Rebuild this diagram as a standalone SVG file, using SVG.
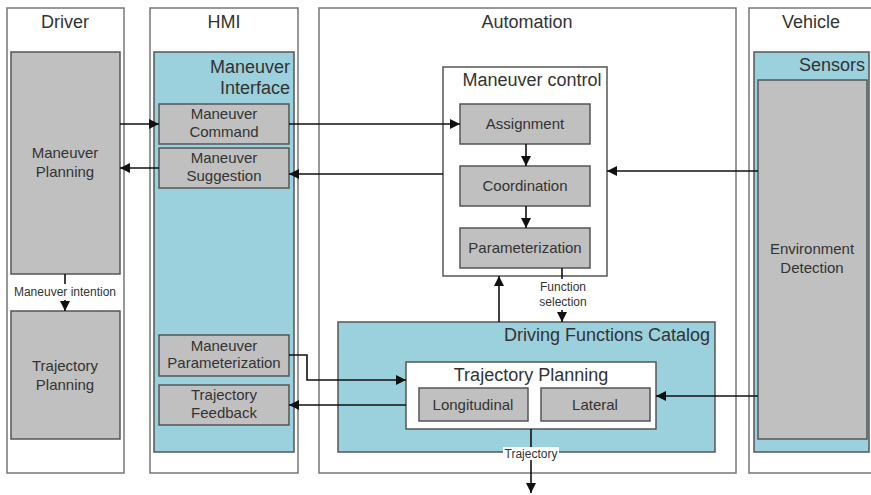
<svg xmlns="http://www.w3.org/2000/svg" width="871" height="495" viewBox="0 0 871 495">
<defs>
<marker id="ah" viewBox="0 0 10 10" refX="10" refY="5" markerWidth="10" markerHeight="10" markerUnits="userSpaceOnUse" orient="auto">
<path d="M0,0 L10,5 L0,10 z" fill="#111"/>
</marker>
<style>
.lane{fill:#fff;stroke:#777;stroke-width:1.5}
.blue{fill:#9bd0dd;stroke:#555;stroke-width:1.5}
.gray{fill:#c0c0c0;stroke:#555;stroke-width:1.5}
.white{fill:#fff;stroke:#555;stroke-width:1.5}
text{font-family:"Liberation Sans",Arial,sans-serif;fill:#333}
.h{font-size:18px;text-anchor:middle}
.t{font-size:18px;text-anchor:end}
.b{font-size:15px;text-anchor:middle}
.s{font-size:12px;text-anchor:middle}
.c{fill:none;stroke:#111;stroke-width:1.6}
</style>
</defs>
<rect x="0" y="0" width="871" height="495" fill="#fff"/>
<g id="lane-driver"><rect class="lane" x="7" y="8" width="117" height="465"/><text class="h" x="65" y="28">Driver</text></g>
<g id="lane-hmi"><rect class="lane" x="150" y="8" width="148" height="465"/><text class="h" x="224" y="28">HMI</text></g>
<g id="lane-automation"><rect class="lane" x="319" y="8" width="417" height="465"/><text class="h" x="527" y="28">Automation</text></g>
<g id="lane-vehicle"><rect class="lane" x="749" y="8" width="125" height="465"/><text class="h" x="811" y="28">Vehicle</text></g>

<g id="maneuver-planning"><rect class="gray" x="11" y="52" width="109" height="222"/><text class="b" x="65" y="158">Maneuver</text><text class="b" x="65" y="177">Planning</text></g>
<g id="trajectory-planning-driver"><rect class="gray" x="11" y="311" width="109" height="128"/><text class="b" x="65" y="371">Trajectory</text><text class="b" x="65" y="390">Planning</text></g>

<g id="maneuver-interface"><rect class="blue" x="154" y="52" width="140" height="400"/><text class="t" x="290" y="73">Maneuver</text><text class="t" x="290" y="94">Interface</text></g>
<g id="maneuver-command"><rect class="gray" x="159" y="104" width="130" height="40"/><text class="b" x="224" y="119">Maneuver</text><text class="b" x="224" y="137">Command</text></g>
<g id="maneuver-suggestion"><rect class="gray" x="159" y="148" width="130" height="40"/><text class="b" x="224" y="163">Maneuver</text><text class="b" x="224" y="181">Suggestion</text></g>
<g id="maneuver-parameterization"><rect class="gray" x="159" y="335" width="130" height="41"/><text class="b" x="224" y="351">Maneuver</text><text class="b" x="224" y="368">Parameterization</text></g>
<g id="trajectory-feedback"><rect class="gray" x="159" y="385" width="130" height="40"/><text class="b" x="224" y="400">Trajectory</text><text class="b" x="224" y="418">Feedback</text></g>

<g id="maneuver-control"><rect class="white" x="443" y="67" width="164" height="209"/><text class="h" x="532" y="86">Maneuver control</text></g>
<g id="assignment"><rect class="gray" x="460" y="104" width="130" height="40"/><text class="b" x="525" y="129">Assignment</text></g>
<g id="coordination"><rect class="gray" x="460" y="166" width="130" height="40"/><text class="b" x="525" y="191">Coordination</text></g>
<g id="parameterization"><rect class="gray" x="460" y="228" width="130" height="40"/><text class="b" x="525" y="253">Parameterization</text></g>

<g id="driving-functions-catalog"><rect class="blue" x="338" y="322" width="377" height="130"/><text class="t" x="710" y="341">Driving Functions Catalog</text></g>
<g id="trajectory-planning"><rect class="white" x="406" y="362" width="250" height="67"/><text class="h" x="531" y="381">Trajectory Planning</text></g>
<g id="longitudinal"><rect class="gray" x="419" y="388" width="109" height="33"/><text class="b" x="473" y="410">Longitudinal</text></g>
<g id="lateral"><rect class="gray" x="541" y="388" width="109" height="33"/><text class="b" x="595" y="410">Lateral</text></g>

<g id="sensors"><rect class="blue" x="754" y="52" width="115" height="400"/><text class="t" x="865" y="71">Sensors</text></g>
<g id="environment-detection"><rect class="gray" x="758" y="80" width="109" height="359"/><text class="b" x="812" y="254">Environment</text><text class="b" x="812" y="273">Detection</text></g>

<g id="connectors">
<path class="c" d="M120,124 H159" marker-end="url(#ah)"/>
<path class="c" d="M159,168 H120" marker-end="url(#ah)"/>
<path class="c" d="M289,124 H460" marker-end="url(#ah)"/>
<path class="c" d="M443,174 H289" marker-end="url(#ah)"/>
<path class="c" d="M526,144 V166" marker-end="url(#ah)"/>
<path class="c" d="M526,206 V228" marker-end="url(#ah)"/>
<path class="c" d="M758,171 H607" marker-end="url(#ah)"/>
<path class="c" d="M758,396 H656" marker-end="url(#ah)"/>
<path class="c" d="M289,355 H307 V380 H406" marker-end="url(#ah)"/>
<path class="c" d="M406,405 H289" marker-end="url(#ah)"/>
<path class="c" d="M499,322 V276" marker-end="url(#ah)"/>
<path class="c" d="M562,268 V279"/>
<text class="s" x="563" y="291">Function</text>
<text class="s" x="563" y="306">selection</text>
<path class="c" d="M562,310 V322" marker-end="url(#ah)"/>
<path class="c" d="M65,274 V284"/>
<text class="s" x="65" y="296">Maneuver intention</text>
<path class="c" d="M65,300 V311" marker-end="url(#ah)"/>
<path class="c" d="M531,429 V493" marker-end="url(#ah)"/>
<rect x="503" y="447" width="56" height="13" fill="#fff"/>
<text class="s" x="531" y="458">Trajectory</text>
</g>
</svg>
